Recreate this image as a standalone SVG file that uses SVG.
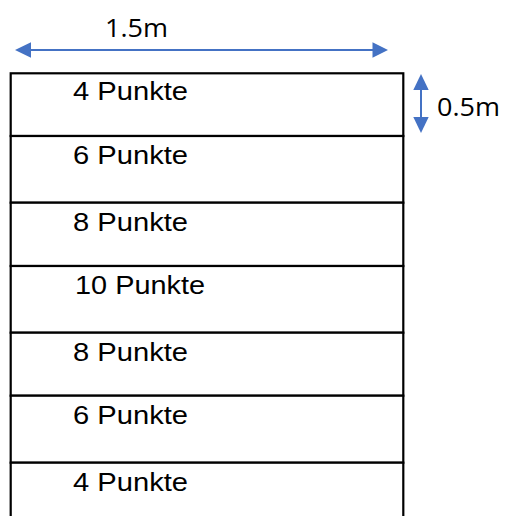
<svg xmlns="http://www.w3.org/2000/svg" width="505" height="516" viewBox="0 0 505 516">
<style>
.row{fill:#fff;stroke:#000;stroke-width:2.2}
.lbl{font-family:"Liberation Sans",Arial,sans-serif;font-size:25px;fill:#000}
.dim{font-family:"Open Sans","Liberation Sans",sans-serif;font-size:25px;fill:#000}
.arr{stroke:#4472C4;stroke-width:2;fill:none}
.head{fill:#4472C4}
</style>
<rect width="505" height="516" fill="#fff"/>
<g id="row1"><rect class="row" x="10.7" y="73.3" width="392.6" height="62.7"/><text class="lbl" x="73" y="100" textLength="115" lengthAdjust="spacingAndGlyphs">4 Punkte</text></g>
<g id="row2"><rect class="row" x="10.7" y="136" width="392.6" height="66.7"/><text class="lbl" x="73" y="164.3" textLength="115" lengthAdjust="spacingAndGlyphs">6 Punkte</text></g>
<g id="row3"><rect class="row" x="10.7" y="202.7" width="392.6" height="63.3"/><text class="lbl" x="73" y="230.7" textLength="115" lengthAdjust="spacingAndGlyphs">8 Punkte</text></g>
<g id="row4"><rect class="row" x="10.7" y="266" width="392.6" height="66.7"/><text class="lbl" x="75" y="294.3" textLength="130" lengthAdjust="spacingAndGlyphs">10 Punkte</text></g>
<g id="row5"><rect class="row" x="10.7" y="332.7" width="392.6" height="63"/><text class="lbl" x="73" y="360.7" textLength="115" lengthAdjust="spacingAndGlyphs">8 Punkte</text></g>
<g id="row6"><rect class="row" x="10.7" y="395.7" width="392.6" height="67"/><text class="lbl" x="73" y="424" textLength="115" lengthAdjust="spacingAndGlyphs">6 Punkte</text></g>
<g id="row7"><rect class="row" x="10.7" y="462.7" width="392.6" height="70"/><text class="lbl" x="73" y="490.7" textLength="115" lengthAdjust="spacingAndGlyphs">4 Punkte</text></g>
<g id="connectors">
<line class="arr" x1="30" y1="50" x2="374" y2="50"/>
<polygon class="head" points="15,50 31,42.3 31,57.7"/>
<polygon class="head" points="388,50 372.5,42.3 372.5,57.7"/>
<line class="arr" x1="421" y1="88" x2="421" y2="119"/>
<polygon class="head" points="421,74 413.3,90 428.7,90"/>
<polygon class="head" points="421,133 413.3,117 428.7,117"/>
</g>
<g id="dim-labels">
<text class="dim" x="105" y="37" textLength="63" lengthAdjust="spacingAndGlyphs">1.5m</text>
<text class="dim" x="437" y="116" textLength="63" lengthAdjust="spacingAndGlyphs">0.5m</text>
</g>
</svg>
